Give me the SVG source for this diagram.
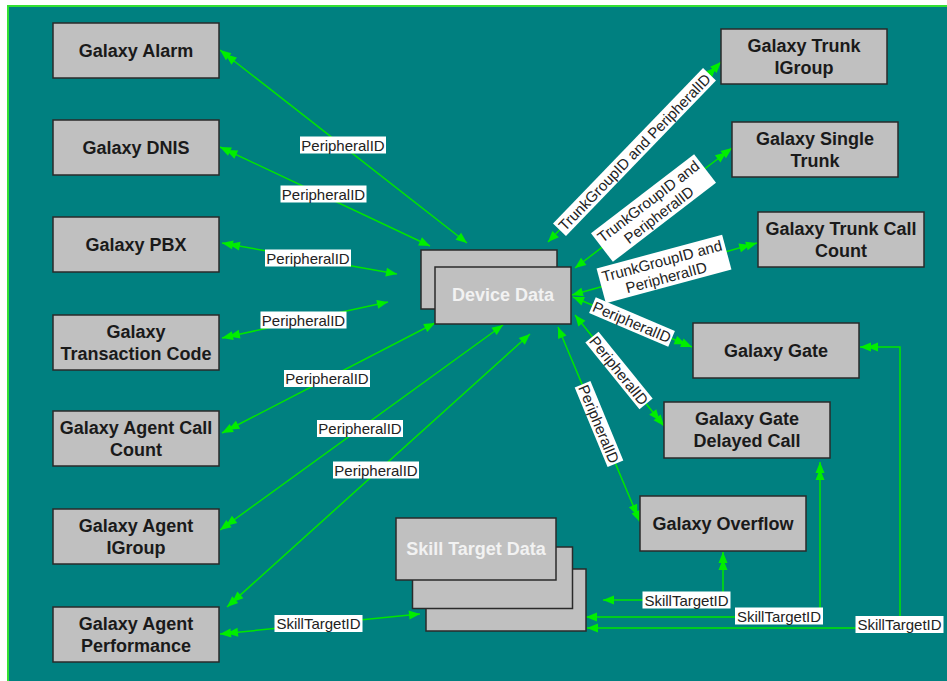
<svg xmlns="http://www.w3.org/2000/svg" width="947" height="681" viewBox="0 0 947 681">
<style>
.node rect{fill:#c0c0c0;stroke:#2a2a2a;stroke-width:1.5}
.node text{font-family:"Liberation Sans",Arial,sans-serif;font-weight:bold;font-size:18px;fill:#1a1a1a;text-anchor:middle}
.store text{fill:#f2f2f2}
.conn{fill:none;stroke:#00e600;stroke-width:1.5;marker-start:url(#many);marker-end:url(#one)}
.lbl rect{fill:#ffffff}
.lbl text{font-family:"Liberation Sans",Arial,sans-serif;font-size:15px;fill:#222;text-anchor:middle}
</style>
<defs>
<marker id="one" viewBox="-12 -5 13 10" refX="0" refY="0" markerWidth="13" markerHeight="10" markerUnits="userSpaceOnUse" orient="auto">
<path d="M-11,-4.5 L0,0 L-11,4.5 Z" fill="#00ee00"/>
</marker>
<marker id="many" viewBox="-19 -5 20 10" refX="0" refY="0" markerWidth="20" markerHeight="10" markerUnits="userSpaceOnUse" orient="auto-start-reverse">
<path d="M-11,-4.5 L0,0 L-11,4.5 Z M-18,-4.5 L-7,0 L-18,4.5 Z" fill="#00ee00"/>
</marker>
</defs>
<rect x="0" y="0" width="947" height="681" fill="#ffffff"/>
<rect x="8" y="6" width="945" height="680" fill="#008080" stroke="#33e033" stroke-width="2"/>

<g id="connectors">
<path class="conn" d="M220,50 L467,243"/>
<path class="conn" d="M220,147 L430,246"/>
<path class="conn" d="M222,243 L397,274"/>
<path class="conn" d="M222,338 L388,302"/>
<path class="conn" d="M222,433 L435,323"/>
<path class="conn" d="M220,530 L503,325"/>
<path class="conn" d="M227,607 L530,334"/>
<path class="conn" d="M220,634 L420,614"/>
<path class="conn" d="M721,62 L548,242"/>
<path class="conn" d="M732,148 L575,268"/>
<path class="conn" d="M757,243 L572,295"/>
<path class="conn" d="M692,347 L573,297"/>
<path class="conn" d="M664,426 L575,315"/>
<path class="conn" d="M640,522 L558,327"/>
<path class="conn" d="M723,552 L723,600 L603,600"/>
<path class="conn" d="M820,462 L820,617 L586,617"/>
<path class="conn" d="M860,347 L900,347 L900,628 L587,628"/>
</g>

<g id="labels">
<g class="lbl" transform="translate(343,145)"><rect x="-43" y="-8.5" width="86" height="17"/><text y="5.5">PeripheralID</text></g>
<g class="lbl" transform="translate(323.5,194)"><rect x="-43" y="-8.5" width="86" height="17"/><text y="5.5">PeripheralID</text></g>
<g class="lbl" transform="translate(308,258)"><rect x="-43" y="-8.5" width="86" height="17"/><text y="5.5">PeripheralID</text></g>
<g class="lbl" transform="translate(303.5,320)"><rect x="-43" y="-8.5" width="86" height="17"/><text y="5.5">PeripheralID</text></g>
<g class="lbl" transform="translate(327,378.5)"><rect x="-43" y="-8.5" width="86" height="17"/><text y="5.5">PeripheralID</text></g>
<g class="lbl" transform="translate(360,428.5)"><rect x="-43" y="-8.5" width="86" height="17"/><text y="5.5">PeripheralID</text></g>
<g class="lbl" transform="translate(376,470)"><rect x="-43" y="-8.5" width="86" height="17"/><text y="5.5">PeripheralID</text></g>
<g class="lbl" transform="translate(318.5,623.5)"><rect x="-44" y="-8.5" width="88" height="17"/><text y="5.5">SkillTargetID</text></g>
<g class="lbl" transform="translate(634.5,152) rotate(-46)"><rect x="-108" y="-9" width="216" height="18"/><text y="5.5">TrunkGroupID and PeripheralID</text></g>
<g class="lbl" transform="translate(653.5,208) rotate(-37.5)"><rect x="-65" y="-18" width="130" height="36"/><text y="-3">TrunkGroupID and</text><text y="14">PeripheralID</text></g>
<g class="lbl" transform="translate(664,269) rotate(-15)"><rect x="-65" y="-18" width="130" height="36"/><text y="-3">TrunkGroupID and</text><text y="14">PeripheralID</text></g>
<g class="lbl" transform="translate(632,322) rotate(23)"><rect x="-43" y="-8.5" width="86" height="17"/><text y="5.5">PeripheralID</text></g>
<g class="lbl" transform="translate(619,370.5) rotate(51)"><rect x="-43" y="-8.5" width="86" height="17"/><text y="5.5">PeripheralID</text></g>
<g class="lbl" transform="translate(599,424) rotate(67.5)"><rect x="-43" y="-8.5" width="86" height="17"/><text y="5.5">PeripheralID</text></g>
<g class="lbl" transform="translate(686.5,600)"><rect x="-44" y="-8.5" width="88" height="17"/><text y="5.5">SkillTargetID</text></g>
<g class="lbl" transform="translate(779,616)"><rect x="-44" y="-8.5" width="88" height="17"/><text y="5.5">SkillTargetID</text></g>
<g class="lbl" transform="translate(899.5,624.5)"><rect x="-44" y="-8.5" width="88" height="17"/><text y="5.5">SkillTargetID</text></g>
</g>

<g id="galaxy-alarm" class="node"><rect x="53" y="23" width="166" height="55"/><text x="136" y="56.5">Galaxy Alarm</text></g>
<g id="galaxy-dnis" class="node"><rect x="53" y="120" width="166" height="55"/><text x="136" y="153.5">Galaxy DNIS</text></g>
<g id="galaxy-pbx" class="node"><rect x="53" y="217" width="166" height="55"/><text x="136" y="250.5">Galaxy PBX</text></g>
<g id="galaxy-transaction-code" class="node"><rect x="53" y="315" width="166" height="55"/><text x="136" y="337.5">Galaxy</text><text x="136" y="359.5">Transaction Code</text></g>
<g id="galaxy-agent-call-count" class="node"><rect x="53" y="411" width="166" height="55"/><text x="136" y="433.5">Galaxy Agent Call</text><text x="136" y="455.5">Count</text></g>
<g id="galaxy-agent-igroup" class="node"><rect x="53" y="509" width="166" height="55"/><text x="136" y="531.5">Galaxy Agent</text><text x="136" y="553.5">IGroup</text></g>
<g id="galaxy-agent-performance" class="node"><rect x="53" y="607" width="166" height="55"/><text x="136" y="629.5">Galaxy Agent</text><text x="136" y="651.5">Performance</text></g>

<g id="galaxy-trunk-igroup" class="node"><rect x="721" y="29" width="166" height="55"/><text x="804" y="51.5">Galaxy Trunk</text><text x="804" y="73.5">IGroup</text></g>
<g id="galaxy-single-trunk" class="node"><rect x="732" y="122" width="166" height="55"/><text x="815" y="144.5">Galaxy Single</text><text x="815" y="166.5">Trunk</text></g>
<g id="galaxy-trunk-call-count" class="node"><rect x="758" y="212" width="166" height="55"/><text x="841" y="234.5">Galaxy Trunk Call</text><text x="841" y="256.5">Count</text></g>
<g id="galaxy-gate" class="node"><rect x="693" y="323" width="166" height="55"/><text x="776" y="356.5">Galaxy Gate</text></g>
<g id="galaxy-gate-delayed-call" class="node"><rect x="664" y="402" width="166" height="56"/><text x="747" y="424.5">Galaxy Gate</text><text x="747" y="446.5">Delayed Call</text></g>
<g id="galaxy-overflow" class="node"><rect x="640" y="496" width="166" height="55"/><text x="723" y="529.5">Galaxy Overflow</text></g>

<g id="device-data" class="node store"><rect x="421" y="250" width="136" height="59"/><rect x="435" y="267" width="136" height="57"/><text x="503" y="301">Device Data</text></g>
<g id="skill-target-data" class="node store"><rect x="426" y="569" width="160" height="62"/><rect x="412.5" y="547" width="160" height="61.5"/><rect x="396" y="518" width="160" height="62"/><text x="476" y="555">Skill Target Data</text></g>
</svg>
